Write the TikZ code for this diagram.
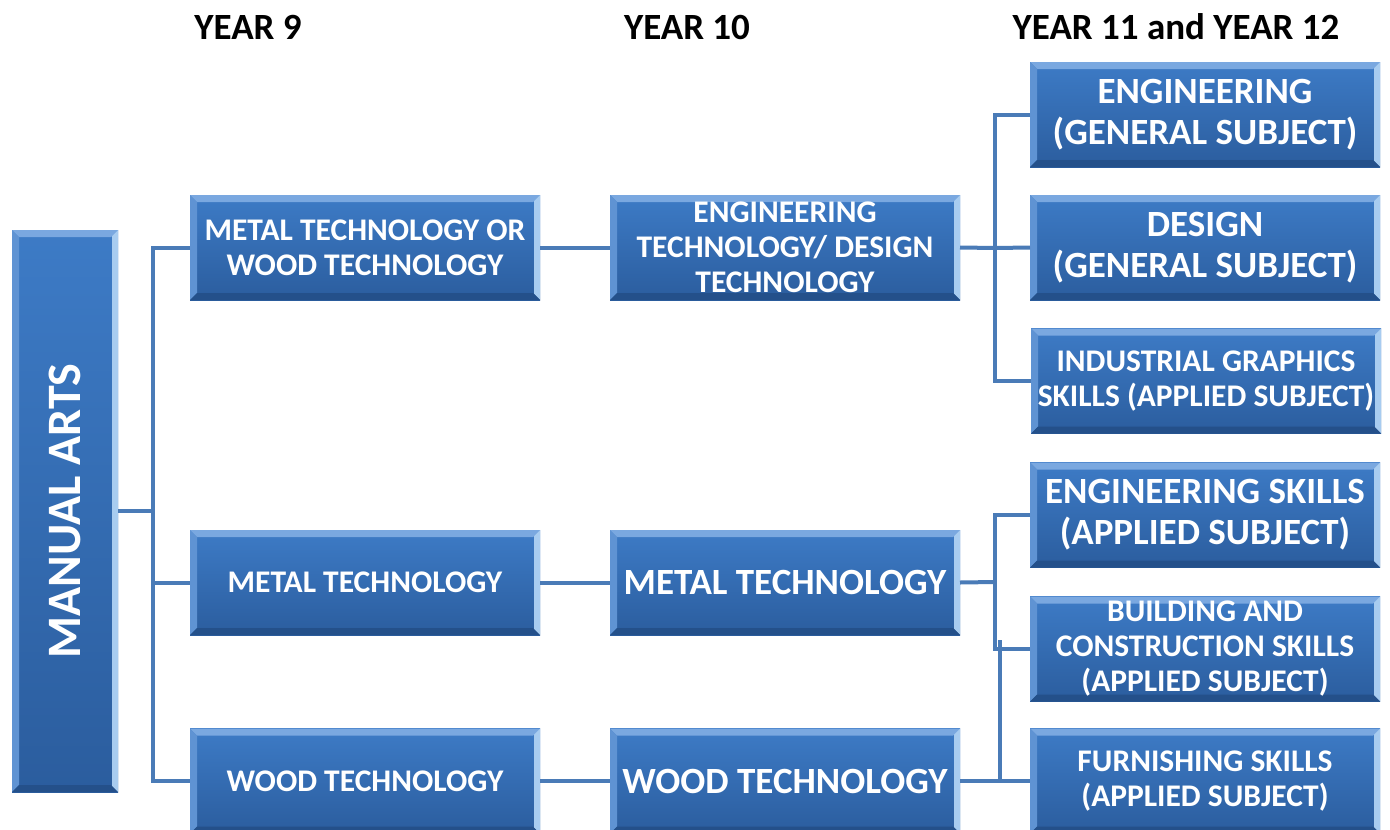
\documentclass[tikz,border=0pt]{standalone}
\usepackage{fontspec}
\setmainfont{Carlito}
\definecolor{lineblue}{HTML}{4A7BB7}
\definecolor{boxtop}{HTML}{3D7BC6}
\definecolor{boxbot}{HTML}{2B5D9E}
\definecolor{bevtop}{HTML}{7AA8E0}
\definecolor{bevleft}{HTML}{5F93D3}
\definecolor{bevright}{HTML}{A8CCF0}
\definecolor{bevbot}{HTML}{24508A}
\tikzset{
  bbox/.style={rectangle, inner sep=0pt, outer sep=0pt, top color=boxtop, bottom color=boxbot,
    text=white, font=\bfseries\fontsize{31.5}{35}\selectfont, align=center,
    minimum width=350pt, minimum height=105pt,
    path picture={
      \fill[bevtop] (path picture bounding box.north west) -- (path picture bounding box.north east)
        -- ([xshift=-7pt,yshift=-7pt]path picture bounding box.north east)
        -- ([xshift=7pt,yshift=-7pt]path picture bounding box.north west) -- cycle;
      \fill[bevleft] (path picture bounding box.north west) -- ([xshift=7pt,yshift=-7pt]path picture bounding box.north west)
        -- ([xshift=7pt,yshift=7pt]path picture bounding box.south west) -- (path picture bounding box.south west) -- cycle;
      \fill[bevright] (path picture bounding box.north east) -- ([xshift=-6pt,yshift=-6pt]path picture bounding box.north east)
        -- ([xshift=-6pt,yshift=6pt]path picture bounding box.south east) -- (path picture bounding box.south east) -- cycle;
      \fill[bevbot] (path picture bounding box.south west) -- ([xshift=7pt,yshift=7pt]path picture bounding box.south west)
        -- ([xshift=-7pt,yshift=7pt]path picture bounding box.south east) -- (path picture bounding box.south east) -- cycle;
    }},
  big/.style={font=\bfseries\fontsize{37}{41}\selectfont},
  head/.style={font=\bfseries\fontsize{37}{40}\selectfont, text=black},
  conn/.style={draw=lineblue, line width=4pt}
}
\begin{document}
\begin{tikzpicture}[x=1pt,y=-1pt]
\useasboundingbox[fill=white] (0,0) rectangle (1390,830);
% headings
\node[head] (h9) at (248,27) {YEAR 9};
\node[head] (h10) at (687,27) {YEAR 10};
\node[head] (h11) at (1176,27) {YEAR 11 and YEAR 12};
\coordinate (j1) at (153,511);
\coordinate (j2) at (995,248);
\coordinate (j3) at (995,582);
\coordinate (j4) at (1000,781);
\coordinate (j5) at (1000,640);
% boxes
\node[bbox, minimum width=106pt, minimum height=562pt] (ma) at (65,511)
  {\rotatebox{90}{\fontsize{48}{52}\selectfont MANUAL ARTS}};
\node[bbox] (y9a) at (365,247.5) {METAL TECHNOLOGY OR\\WOOD TECHNOLOGY};
\node[bbox] (y9b) at (365,582.5) {METAL TECHNOLOGY};
\node[bbox] (y9c) at (365,781) {WOOD TECHNOLOGY};
\node[bbox] (y10a) at (785,247.5) {ENGINEERING\\TECHNOLOGY/ DESIGN\\TECHNOLOGY};
\node[bbox, big] (y10b) at (785,582.5) {METAL TECHNOLOGY};
\node[bbox, big] (y10c) at (785,781) {WOOD TECHNOLOGY};
\node[bbox, big] (y11a) at (1205,114.5) {ENGINEERING\\(GENERAL SUBJECT)};
\node[bbox, big] (y11b) at (1205,247.5) {DESIGN\\(GENERAL SUBJECT)};
\node[bbox] (y11c) at (1206,381) {INDUSTRIAL GRAPHICS\\SKILLS (APPLIED SUBJECT)};
\node[bbox, big] (y11d) at (1205,515) {ENGINEERING SKILLS\\(APPLIED SUBJECT)};
\node[bbox] (y11e) at (1205,649) {BUILDING AND\\CONSTRUCTION SKILLS\\(APPLIED SUBJECT)};
\node[bbox] (y11f) at (1205,781) {FURNISHING SKILLS\\(APPLIED SUBJECT)};
% connectors
\draw[conn] (ma.east) -- (j1);
\draw[conn] (y9a.west) -| (j1) |- (y9c.west);
\draw[conn] (j1) |- (y9b.west);
\draw[conn] (y9a.east) -- (y10a.west);
\draw[conn] (y9b.east) -- (y10b.west);
\draw[conn] (y9c.east) -- (y10c.west);
\draw[conn] (y10a.east) -- (j2) -- (y11b.west);
\draw[conn] (y11a.west) -| (j2) |- (y11c.west);
\draw[conn] (y10b.east) -- (j3);
\draw[conn] (y11d.west) -| (j3) |- (y11e.west);
\draw[conn] (y10c.east) -- (y11f.west);
\draw[conn] (j4) -- (j5);
\end{tikzpicture}
\end{document}
